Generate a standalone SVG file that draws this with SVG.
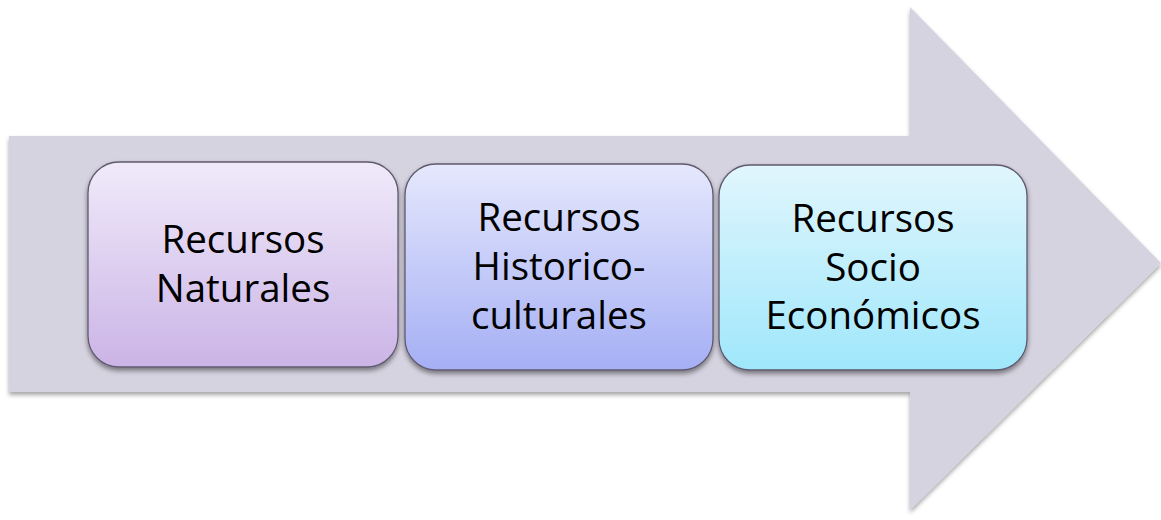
<svg xmlns="http://www.w3.org/2000/svg" width="1161" height="520" viewBox="0 0 1161 520">
<defs>
<filter id="sh" x="-5%" y="-5%" width="110%" height="115%">
<feDropShadow dx="0" dy="3" stdDeviation="2" flood-color="#000" flood-opacity="0.35"/>
</filter>
<filter id="shb" x="-5%" y="-5%" width="110%" height="115%">
<feDropShadow dx="0" dy="3" stdDeviation="2.5" flood-color="#000" flood-opacity="0.45"/>
</filter>
<linearGradient id="g1" x1="0" y1="0" x2="0" y2="1">
<stop offset="0" stop-color="#f0eafa"/>
<stop offset="1" stop-color="#cbb4e6"/>
</linearGradient>
<linearGradient id="g2" x1="0" y1="0" x2="0" y2="1">
<stop offset="0" stop-color="#e5e8fd"/>
<stop offset="1" stop-color="#a5aff4"/>
</linearGradient>
<linearGradient id="g3" x1="0" y1="0" x2="0" y2="1">
<stop offset="0" stop-color="#e1f6fd"/>
<stop offset="1" stop-color="#9fe7fb"/>
</linearGradient>
</defs>
<style>
.box{stroke:#5f5a6e;stroke-width:1.3;filter:url(#shb)}
.t{font-family:"Open Sans","Noto Sans",sans-serif;font-size:38.5px;fill:#000;text-anchor:middle}
</style>
<rect width="1161" height="520" fill="#fff"/>
<g id="arrow">
<path d="M9,136 L910,136 L910,7 L1161,263 L910,510 L910,392 L9,392 Z" fill="#d6d3e0" filter="url(#sh)"/>
</g>
<g id="connectors"></g>
<g id="n1">
<rect class="box" x="88" y="162" width="310" height="205" rx="31" fill="url(#g1)"/>
<text class="t" x="243" y="253">Recursos</text>
<text class="t" x="243" y="302">Naturales</text>
</g>
<g id="n2">
<rect class="box" x="405" y="164" width="308" height="206" rx="31" fill="url(#g2)"/>
<text class="t" x="559" y="231">Recursos</text>
<text class="t" x="559" y="280">Historico-</text>
<text class="t" x="559" y="329">culturales</text>
</g>
<g id="n3">
<rect class="box" x="719" y="165" width="308" height="205" rx="31" fill="url(#g3)"/>
<text class="t" x="873" y="232">Recursos</text>
<text class="t" x="873" y="281">Socio</text>
<text class="t" x="873" y="329">Económicos</text>
</g>
</svg>
